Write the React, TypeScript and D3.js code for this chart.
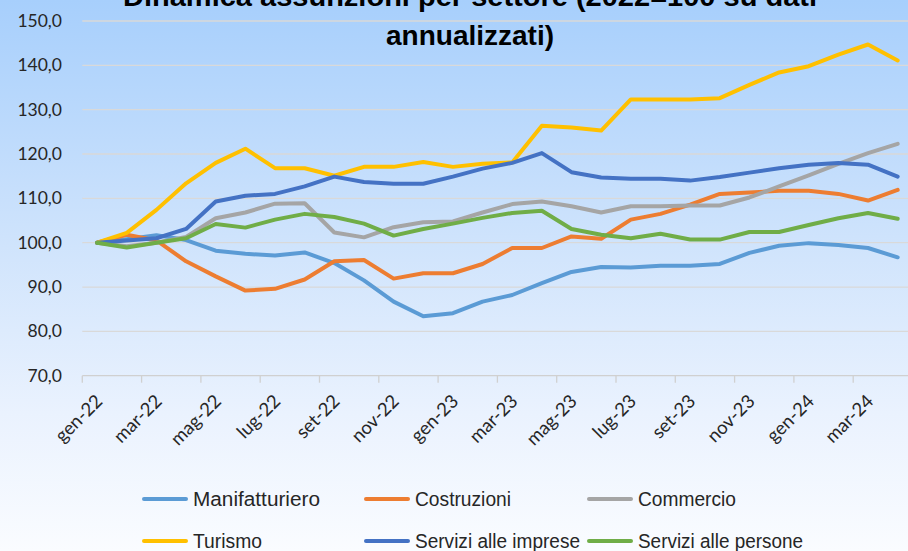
import React, { useEffect, useRef } from 'react';
import * as d3 from 'd3';

const months = [
  'gen-22', 'feb-22', 'mar-22', 'apr-22', 'mag-22', 'giu-22', 'lug-22', 'ago-22', 'set-22', 'ott-22', 'nov-22', 'dic-22',
  'gen-23', 'feb-23', 'mar-23', 'apr-23', 'mag-23', 'giu-23', 'lug-23', 'ago-23', 'set-23', 'ott-23', 'nov-23', 'dic-23',
  'gen-24', 'feb-24', 'mar-24', 'apr-24',
];

const manifatturiero = [100, 100.8, 101.7, 100.6, 98.2, 97.5, 97.1, 97.8, 95.4, 91.5, 86.7, 83.4, 84.1, 86.7, 88.2, 90.9, 93.4, 94.5, 94.4, 94.8, 94.8, 95.2, 97.7, 99.3, 99.9, 99.5, 98.8, 96.7];
const costruzioni = [100, 101.8, 100.5, 95.8, 92.4, 89.2, 89.6, 91.7, 95.8, 96.1, 91.9, 93.1, 93.1, 95.2, 98.8, 98.8, 101.4, 100.9, 105.2, 106.5, 108.6, 111.0, 111.3, 111.7, 111.7, 111.0, 109.5, 111.9];
const commercio = [100, 99.2, 100.0, 101.3, 105.5, 106.8, 108.8, 108.9, 102.3, 101.2, 103.5, 104.6, 104.8, 106.8, 108.7, 109.3, 108.2, 106.8, 108.2, 108.2, 108.4, 108.4, 110.2, 112.7, 115.2, 117.8, 120.2, 122.3];
const turismo = [100, 102.2, 107.4, 113.4, 118.0, 121.2, 116.8, 116.8, 115.1, 117.1, 117.1, 118.2, 117.1, 117.8, 118.1, 126.4, 126.0, 125.3, 132.3, 132.3, 132.3, 132.6, 135.6, 138.4, 139.8, 142.4, 144.7, 141.1];
const serviziImprese = [100, 100.5, 101.0, 103.1, 109.3, 110.6, 111.0, 112.7, 114.9, 113.7, 113.3, 113.3, 114.9, 116.7, 118.0, 120.2, 115.9, 114.7, 114.4, 114.4, 114.0, 114.8, 115.8, 116.8, 117.6, 118.0, 117.6, 114.9];
const serviziPersone = [100, 98.9, 100.0, 101.0, 104.2, 103.4, 105.2, 106.5, 105.8, 104.3, 101.6, 103.1, 104.3, 105.6, 106.7, 107.2, 103.1, 101.8, 101.0, 102.0, 100.7, 100.7, 102.4, 102.4, 104.0, 105.5, 106.7, 105.4];

const seriesNames = ['Manifatturiero', 'Costruzioni', 'Commercio', 'Turismo', 'Servizi alle imprese', 'Servizi alle persone'];
const seriesValues = [manifatturiero, costruzioni, commercio, turismo, serviziImprese, serviziPersone];
const seriesColors = ['#5B9BD5', '#ED7D31', '#A5A5A5', '#FFC000', '#4472C4', '#70AD47'];
const yTicks = [70, 80, 90, 100, 110, 120, 130, 140, 150];

const titleLines = ['Dinamica assunzioni per settore (2022=100 su dati', 'annualizzati)'];

const W = 908;
const H = 551;

const App: React.FC = () => {
  const svgRef = useRef<SVGSVGElement | null>(null);

  useEffect(() => {
    const svg = d3.select(svgRef.current);
    svg.selectAll('*').remove();

    const left = 82.3;
    const step = 29.65;
    const xScale = d3
      .scaleBand<string>()
      .domain(months)
      .range([left, left + step * months.length])
      .paddingInner(0)
      .paddingOuter(0);
    const yScale = d3.scaleLinear().domain([70, 150]).range([375.7, 21]);
    const cx = (m: string) => (xScale(m) ?? 0) + xScale.bandwidth() / 2;

    // sfondo sfumato
    const defs = svg.append('defs');
    const grad = defs
      .append('linearGradient')
      .attr('id', 'bg-grad')
      .attr('x1', 0)
      .attr('y1', 0)
      .attr('x2', 0)
      .attr('y2', 1);
    [
      [0, '#A7CFFC'],
      [0.45, '#D0E4FC'],
      [0.75, '#EAF2FE'],
      [1, '#FAFCFF'],
    ].forEach(([o, c]) => grad.append('stop').attr('offset', o as number).attr('stop-color', c as string));
    svg.append('rect').attr('width', W).attr('height', H).attr('fill', 'url(#bg-grad)');

    const fmt = (v: number) => d3.format('.1f')(v).replace('.', ',');

    // griglia
    svg
      .append('g')
      .selectAll('line')
      .data(yTicks.filter((t) => t !== 70))
      .enter()
      .append('line')
      .attr('x1', left)
      .attr('x2', W)
      .attr('y1', (d) => yScale(d))
      .attr('y2', (d) => yScale(d))
      .attr('stroke', '#D9D9D9')
      .attr('stroke-width', 1.3);

    // asse x
    const axisY = yScale(70);
    svg
      .append('line')
      .attr('x1', left)
      .attr('x2', W)
      .attr('y1', axisY)
      .attr('y2', axisY)
      .attr('stroke', '#D0D0D0')
      .attr('stroke-width', 1.3);
    svg
      .append('g')
      .selectAll('line')
      .data(months.filter((_, i) => i % 2 === 0))
      .enter()
      .append('line')
      .attr('x1', (d) => xScale(d) ?? 0)
      .attr('x2', (d) => xScale(d) ?? 0)
      .attr('y1', axisY)
      .attr('y2', axisY + 7)
      .attr('stroke', '#D0D0D0')
      .attr('stroke-width', 1.3);

    // etichette y
    svg
      .append('g')
      .selectAll('text')
      .data(yTicks)
      .enter()
      .append('text')
      .attr('x', 62)
      .attr('y', (d) => yScale(d))
      .attr('dy', '0.35em')
      .attr('text-anchor', 'end')
      .attr('font-family', 'Lato, sans-serif')
      .attr('font-size', 17.5)
      .attr('fill', '#262626')
      .text((d) => fmt(d));

    // etichette x
    svg
      .append('g')
      .selectAll('text')
      .data(months.filter((_, i) => i % 2 === 0))
      .enter()
      .append('text')
      .attr('transform', (d) => `translate(${cx(d) + 2},${axisY + 22}) rotate(-45)`)
      .attr('dy', '0.35em')
      .attr('text-anchor', 'end')
      .attr('font-family', 'Lato, sans-serif')
      .attr('font-size', 18.5)
      .attr('fill', '#262626')
      .text((d) => d);

    // linee
    const line = d3
      .line<number>()
      .x((_, i) => cx(months[i]))
      .y((d) => yScale(d));
    svg
      .append('g')
      .selectAll('path')
      .data(seriesValues)
      .enter()
      .append('path')
      .attr('d', (d) => line(d))
      .attr('fill', 'none')
      .attr('stroke', (_, i) => seriesColors[i])
      .attr('stroke-width', 4)
      .attr('stroke-linejoin', 'round')
      .attr('stroke-linecap', 'round');

    // titolo
    const titleWidths = [694, 168];
    svg
      .append('g')
      .selectAll('text')
      .data(titleLines)
      .enter()
      .append('text')
      .attr('x', 470)
      .attr('y', (_, i) => 6 + i * 39)
      .attr('text-anchor', 'middle')
      .attr('font-family', '"Liberation Sans Narrow", sans-serif')
      .attr('font-weight', 'bold')
      .attr('font-size', 28)
      .attr('fill', '#000')
      .attr('textLength', (_, i) => titleWidths[i])
      .attr('lengthAdjust', 'spacingAndGlyphs')
      .text((d) => d);

    // legenda
    const colX = [142, 364, 587];
    const rowY = [499, 541];
    const textW = [127, 96, 98, 69, 165, 165];
    const legend = svg
      .append('g')
      .selectAll('g')
      .data(seriesNames)
      .enter()
      .append('g')
      .attr('transform', (_, i) => `translate(${colX[i % 3]},${rowY[Math.floor(i / 3)]})`);
    legend
      .append('line')
      .attr('x1', 2)
      .attr('x2', 44)
      .attr('y1', 0)
      .attr('y2', 0)
      .attr('stroke', (_, i) => seriesColors[i])
      .attr('stroke-width', 4)
      .attr('stroke-linecap', 'round');
    legend
      .append('text')
      .attr('x', 51)
      .attr('y', 0)
      .attr('dy', '0.36em')
      .attr('font-family', '"Liberation Sans Narrow", sans-serif')
      .attr('font-size', 20)
      .attr('fill', '#262626')
      .attr('textLength', (_, i) => textW[i])
      .attr('lengthAdjust', 'spacingAndGlyphs')
      .text((d) => d);
  }, []);

  return (
    <svg
      ref={svgRef}
      width={W}
      height={H}
      style={{ position: 'absolute', left: 0, top: 0, display: 'block' }}
    />
  );
};

export default App;
